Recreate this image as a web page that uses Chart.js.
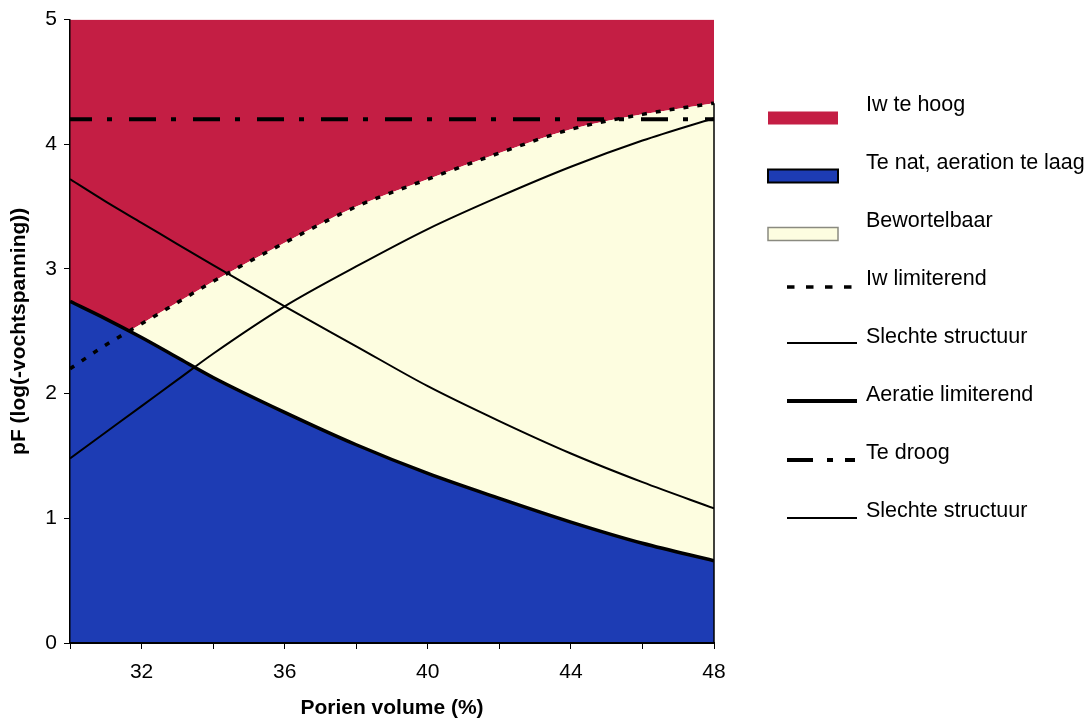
<!DOCTYPE html>
<html>
<head>
<meta charset="utf-8">
<script src="https://cdn.jsdelivr.net/npm/chart.js@4.4.1/dist/chart.umd.min.js"></script>
<style>
  html, body { margin: 0; padding: 0; background: #fff; }
  #wrap { width: 1091px; height: 724px; position: relative; }
</style>
</head>
<body>
<div id="wrap"><canvas id="c" width="1091" height="724"></canvas></div>
<script>
// Porienvolume (%) op de x-as
const porienVolume = [30, 31, 32, 33, 34, 36, 38, 40, 42, 44, 46, 48];
// pF-grenzen per porienvolume
const iwLimiterend = [2.20, 2.39, 2.56, 2.73, 2.90, 3.21, 3.50, 3.72, 3.93, 4.12, 4.24, 4.33];
const aeratieLimiterend = [2.74, 2.60, 2.45, 2.29, 2.13, 1.85, 1.59, 1.36, 1.16, 0.97, 0.80, 0.66];
const slechteStructuurDalend = [3.72, 3.54, 3.37, 3.20, 3.03, 2.70, 2.38, 2.06, 1.78, 1.52, 1.29, 1.08];
const slechteStructuurStijgend = [1.48, 1.69, 1.90, 2.11, 2.32, 2.70, 3.02, 3.32, 3.58, 3.82, 4.03, 4.21];
const teDroog = [4.2, 4.2, 4.2, 4.2, 4.2, 4.2, 4.2, 4.2, 4.2, 4.2, 4.2, 4.2];
// as-indeling
const xTicks = [30, 32, 34, 36, 38, 40, 42, 44, 46, 48];
const xLabelled = [32, 36, 40, 44, 48];
const yTicks = [0, 1, 2, 3, 4, 5];

const FONT = '"Liberation Sans", Arial, Helvetica, sans-serif';
const RED = 'rgb(196,30,68)';
const BLUE = 'rgb(29,60,180)';
const CREAM = 'rgb(253,253,224)';

const pts = vals => porienVolume.map((x, i) => ({ x, y: vals[i] }));

Chart.defaults.font.family = FONT;
Chart.defaults.color = '#000';

// Legenda rechts naast de grafiek
const sideLegend = {
  id: 'sideLegend',
  afterDraw(chart, args, opts) {
    const ctx = chart.ctx;
    ctx.save();
    chart.data.datasets.forEach((ds, i) => {
      const cy = opts.top + i * opts.step;
      const s = opts.symbols[i];
      if (s.type === 'box') {
        const y = cy + 13 - 6.5;
        ctx.fillStyle = ds.backgroundColor;
        ctx.fillRect(768, y, 70, 13);
        if (s.stroke) {
          ctx.lineWidth = s.strokeWidth;
          ctx.strokeStyle = s.stroke;
          ctx.strokeRect(768, y, 70, 13);
        }
      } else {
        ctx.beginPath();
        ctx.setLineDash(s.dash || []);
        ctx.lineWidth = s.width;
        ctx.strokeStyle = '#000';
        ctx.moveTo(787, cy + s.dy);
        ctx.lineTo(857, cy + s.dy);
        ctx.stroke();
        ctx.setLineDash([]);
      }
      ctx.fillStyle = '#000';
      ctx.font = '21.5px ' + FONT;
      ctx.textBaseline = 'middle';
      ctx.textAlign = 'left';
      ctx.fillText(ds.label, 866, cy);
    });
    ctx.restore();
  }
};

// Rechter kader van het plotvlak, van de x-as tot de Iw-grens
const rightFrame = {
  id: 'rightFrame',
  afterDatasetsDraw(chart) {
    const { ctx, chartArea, scales } = chart;
    const yTop = scales.y.getPixelForValue(iwLimiterend[iwLimiterend.length - 1]);
    ctx.save();
    ctx.strokeStyle = '#000';
    ctx.lineWidth = 1.5;
    ctx.beginPath();
    ctx.moveTo(chartArea.right, chartArea.bottom);
    ctx.lineTo(chartArea.right, yTop);
    ctx.stroke();
    ctx.restore();
  }
};

const areaBase = { pointRadius: 0, borderWidth: 0, cubicInterpolationMode: 'monotone' };
const lineBase = { pointRadius: 0, fill: false, borderColor: '#000', cubicInterpolationMode: 'monotone' };

new Chart(document.getElementById('c'), {
  type: 'line',
  data: {
    datasets: [
      { ...areaBase, label: 'Iw te hoog', data: pts(iwLimiterend), fill: 'end', backgroundColor: RED, order: 9 },
      { ...areaBase, label: 'Te nat, aeration te laag', data: pts(aeratieLimiterend), fill: 'origin', backgroundColor: BLUE, order: 7 },
      { ...areaBase, label: 'Bewortelbaar', data: pts(iwLimiterend), fill: 'origin', backgroundColor: CREAM, order: 8 },
      { ...lineBase, label: 'Iw limiterend', data: pts(iwLimiterend), borderWidth: 3.5, borderDash: [5, 9], order: 0 },
      { ...lineBase, label: 'Slechte structuur', data: pts(slechteStructuurDalend), borderWidth: 2, order: 2 },
      { ...lineBase, label: 'Aeratie limiterend', data: pts(aeratieLimiterend), borderWidth: 3.5, order: 1 },
      { ...lineBase, label: 'Te droog', data: pts(teDroog), borderWidth: 4, borderDash: [27, 15, 5, 17], borderDashOffset: 5, order: 0 },
      { ...lineBase, label: 'Slechte structuur', data: pts(slechteStructuurStijgend), borderWidth: 2, order: 2 }
    ]
  },
  options: {
    responsive: false,
    animation: false,
    events: [],
    layout: { padding: { top: 18, right: 377, left: 0, bottom: 0 } },
    plugins: {
      legend: { display: false },
      tooltip: { enabled: false },
      filler: { drawTime: 'beforeDatasetsDraw' },
      sideLegend: {
        top: 105,
        step: 58,
        symbols: [
          { type: 'box' },
          { type: 'box', stroke: '#000', strokeWidth: 2 },
          { type: 'box', stroke: '#8a8a80', strokeWidth: 1.5 },
          { type: 'line', width: 3.5, dash: [7.5, 11.5], dy: 8 },
          { type: 'line', width: 2, dy: 6 },
          { type: 'line', width: 4, dy: 6 },
          { type: 'line', width: 4, dash: [26, 14, 6, 12, 10], dy: 7 },
          { type: 'line', width: 2, dy: 7 }
        ]
      }
    },
    scales: {
      x: {
        type: 'linear',
        min: xTicks[0],
        max: xTicks[xTicks.length - 1],
        afterFit: s => { s.height = 81; },
        afterBuildTicks: s => { s.ticks = xTicks.map(v => ({ value: v })); },
        ticks: {
          autoSkip: false,
          maxRotation: 0,
          padding: 11,
          font: { size: 21 },
          callback: v => (xLabelled.includes(v) ? String(v) : '')
        },
        grid: { drawOnChartArea: false, drawTicks: true, tickLength: 6, color: '#000', lineWidth: 1 },
        border: { display: true, color: '#000', width: 2, z: 1 },
        title: { display: true, text: 'Porien volume (%)', font: { size: 21, weight: 'bold' }, padding: { top: 0, bottom: 3 } }
      },
      y: {
        type: 'linear',
        min: yTicks[0],
        max: yTicks[yTicks.length - 1],
        afterFit: s => { s.width = 70; },
        afterBuildTicks: s => { s.ticks = yTicks.map(v => ({ value: v })); },
        ticks: { padding: 7, font: { size: 21 } },
        grid: { drawOnChartArea: false, drawTicks: true, tickLength: 6, color: '#000', lineWidth: 1 },
        border: { display: true, color: '#000', width: 1.5, z: 1 },
        title: { display: true, text: 'pF (log(-vochtspanning))', font: { size: 21, weight: 'bold' }, padding: { top: 7, bottom: 0 } }
      }
    }
  },
  plugins: [sideLegend, rightFrame]
});
</script>
</body>
</html>
